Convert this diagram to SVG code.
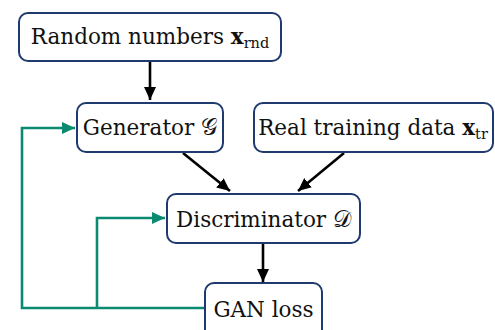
<svg xmlns="http://www.w3.org/2000/svg" width="495" height="330" viewBox="0 0 495 330">
<style>
.box{fill:#fff;stroke:#1e3a6e;stroke-width:2}
.lbl{font-family:"DejaVu Serif","Liberation Serif",serif;font-size:21.5px;fill:#111;text-anchor:middle}
.b{font-weight:bold}
.sub{font-size:14.5px}
.scr{font-family:"DejaVu Sans","Noto Sans",serif;font-size:23px}
.blk{stroke:#000;stroke-width:2.6;fill:none}
.grn{stroke:#0b8a72;stroke-width:2.6;fill:none}
</style>
<defs>
<marker id="ab" markerUnits="userSpaceOnUse" markerWidth="14" markerHeight="12" refX="13" refY="6" orient="auto">
<path d="M0,0 L13,6 L0,12 Z" fill="#000"/>
</marker>
<marker id="ag" markerUnits="userSpaceOnUse" markerWidth="14" markerHeight="12" refX="13" refY="6" orient="auto">
<path d="M0,0 L13,6 L0,12 Z" fill="#0b8a72"/>
</marker>
</defs>
<g id="connectors">
<line class="blk" x1="150" y1="62" x2="150" y2="100" marker-end="url(#ab)"/>
<line class="blk" x1="183" y1="153" x2="230" y2="191" marker-end="url(#ab)"/>
<line class="blk" x1="344" y1="153" x2="298" y2="191" marker-end="url(#ab)"/>
<line class="blk" x1="263" y1="244" x2="263" y2="282" marker-end="url(#ab)"/>
<polyline class="grn" points="205,308 22,308 22,128 75,128" marker-end="url(#ag)"/>
<polyline class="grn" points="97,308 97,218 165,218" marker-end="url(#ag)"/>
</g>
<g id="random">
<rect class="box" x="19" y="13" width="262" height="48" rx="9"/>
<text class="lbl" x="150" y="44">Random numbers <tspan class="b">x</tspan><tspan class="sub" dy="4">rnd</tspan></text>
</g>
<g id="generator">
<rect class="box" x="77" y="103" width="146" height="49" rx="9"/>
<text class="lbl" x="150" y="135">Generator <tspan class="scr">𝒢</tspan></text>
</g>
<g id="realdata">
<rect class="box" x="254" y="103" width="239" height="49" rx="9"/>
<text class="lbl" x="373" y="135">Real training data <tspan class="b">x</tspan><tspan class="sub" dy="4">tr</tspan></text>
</g>
<g id="discriminator">
<rect class="box" x="167" y="194" width="193" height="49" rx="9"/>
<text class="lbl" x="263.5" y="227">Discriminator <tspan class="scr">𝒟</tspan></text>
</g>
<g id="ganloss">
<rect class="box" x="205" y="283" width="117" height="60" rx="9"/>
<text class="lbl" x="263.5" y="317">GAN loss</text>
</g>
</svg>
